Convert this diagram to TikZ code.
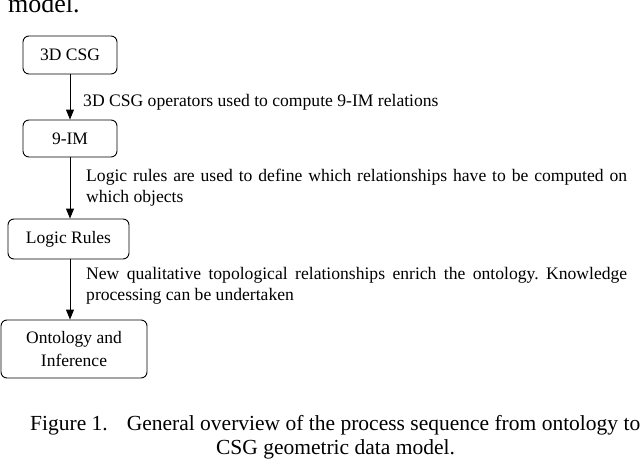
\documentclass[tikz,border=0pt]{standalone}
\usepackage{fontspec}
\setmainfont{Liberation Serif}
\usetikzlibrary{arrows.meta}
\frenchspacing
\begin{document}
\begin{tikzpicture}[x=1pt,y=-1pt,
  boxnode/.style={draw, line width=0.9pt, rounded corners=6pt, inner sep=0pt, align=center, font=\fontsize{17.5}{23}\selectfont, text=black},
  flowarrow/.style={line width=0.9pt, -{Triangle[length=10pt,width=8pt]}},
  labeltext/.style={anchor=base west, inner sep=0pt, font=\fontsize{17.6}{21.5}\selectfont},
  captext/.style={inner sep=0pt, font=\fontsize{21.5}{25}\selectfont}]
\useasboundingbox (0,0) rectangle (640,461);
\node[inner sep=0pt, anchor=base west, font=\fontsize{26}{26}\selectfont] (top) at (8,12) {model.};
\node[boxnode, minimum width=94pt, minimum height=38pt] (b1) at (70,55) {3D CSG};
\node[boxnode, minimum width=94pt, minimum height=37pt] (b2) at (70,138.5) {9-IM};
\node[boxnode, minimum width=121pt, minimum height=40pt] (b3) at (68.5,239) {Logic Rules};
\node[boxnode, minimum width=146pt, minimum height=58pt] (b4) at (74,349) {Ontology and\\Inference};
\draw[flowarrow] (b1.south) -- (b2.north);
\draw[flowarrow] (b2.south) -- (b2.south |- b3.north);
\draw[flowarrow] ([xshift=1.5pt]b3.south) -- ([xshift=1.5pt]b3.south |- b4.north);
\node[labeltext] (l1) at (83,106) {3D CSG operators used to compute 9-IM relations};
\node[labeltext, text width=541pt, align=justify] (l2) at (86,181) {\frenchspacing Logic rules are used to define which relationships have to be computed on\linebreak which objects};
\node[labeltext, text width=541pt, align=justify] (l3) at (86,279) {\frenchspacing New qualitative topological relationships enrich the ontology. Knowledge\linebreak processing can be undertaken};
\node[captext, anchor=base west] (c1) at (30,430) {Figure 1.\hspace{19pt}General overview of the process sequence from ontology to};
\node[captext, anchor=base] (c2) at (335.5,454) {CSG geometric data model.};
\end{tikzpicture}
\end{document}
